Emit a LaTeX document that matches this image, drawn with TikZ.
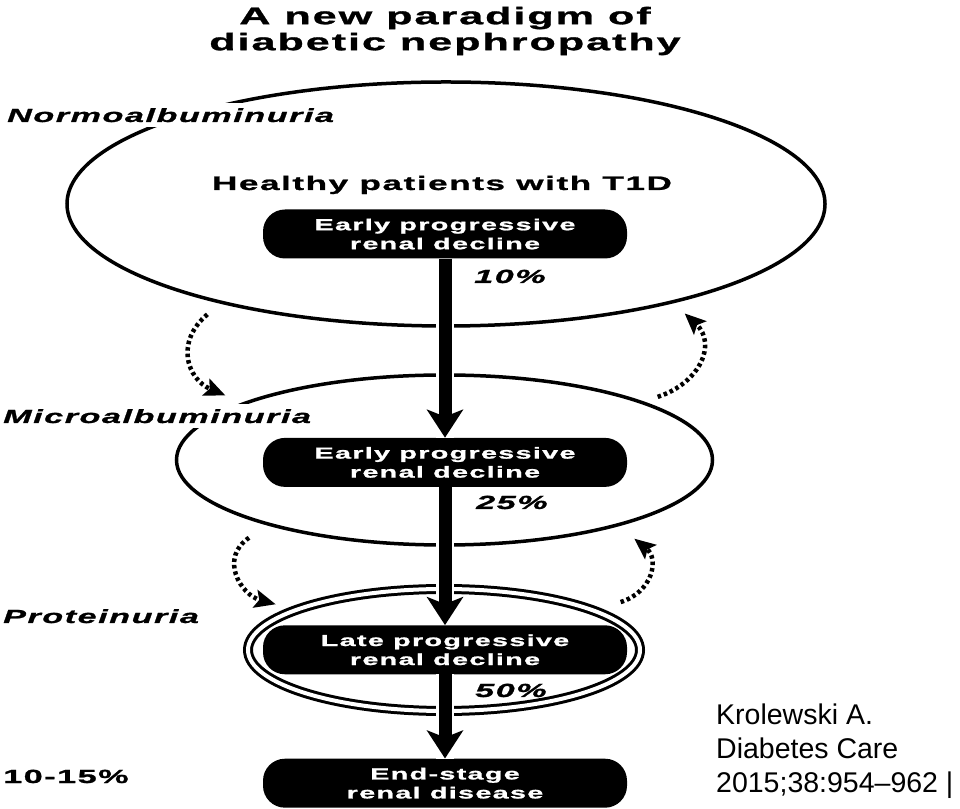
\documentclass[tikz,border=0pt]{standalone}
\usepackage{fontspec}
\setmainfont{Liberation Sans}
\newfontfamily\widefont[FakeStretch=1.8,LetterSpace=8,FakeBold=1.2]{Liberation Sans}
\usetikzlibrary{arrows.meta,positioning,shapes.geometric}

\begin{document}
\begin{tikzpicture}[x=1pt, y=1pt,
  stage/.style={draw, ellipse, line width=3.5pt, inner sep=0pt},
  box/.style={fill=black, text=white, rounded corners=22pt,
              minimum width=364pt, minimum height=49pt, align=center,
              font=\widefont\bfseries\fontsize{16}{19}\selectfont},
  lbl/.style={fill=white, inner sep=5pt, anchor=base west,
              font=\widefont\bfseries\itshape\fontsize{19}{22}\selectfont},
  pct/.style={inner sep=0pt, anchor=base west,
              font=\widefont\bfseries\itshape\fontsize{19}{22}\selectfont},
  ar/.style={-{Stealth[length=28pt, width=36pt, inset=7pt]}, line width=13pt,
             preaction={draw=white, line width=18pt, -}},
  dots/.style={-{Stealth[length=21pt, width=18pt, inset=4pt]}, line width=4.5pt,
               dash pattern=on 3.5pt off 3pt},
  node distance=179pt
]
  \useasboundingbox (0,0) rectangle (960,808);

  \node[font=\widefont\bfseries\fontsize{24}{26}\selectfont, align=center]
    (title) at (445,777) {A new paradigm of\\diabetic nephropathy};

  \node[stage, minimum width=758pt, minimum height=244pt] (normo) at (446,604) {};
  \node[stage, minimum width=536pt, minimum height=170pt] (micro) at (444.5,348) {};
  \node[stage, double, double distance=4pt, line width=3pt,
        minimum width=392pt, minimum height=122pt] (protein) at (444,158) {};

  \node[font=\widefont\bfseries\fontsize{19.5}{22}\selectfont, anchor=base]
    (healthy) at (442,618) {Healthy patients with T1D};

  \node[box] (early1) at (445,574) {Early progressive\\renal decline};
  \node[box, below=of early1] (early2) {Early progressive\\renal decline};
  \node[box, below=138pt of early2] (late) {Late progressive\\renal decline};
  \node[box, below=84pt of late] (esrd) {End-stage\\renal disease};

  \draw[ar] (early1) -- (early2);
  \draw[ar] (early2) -- (late);
  \draw[ar] (late) -- (esrd);

  \node[pct] (p10) at (474,525) {10\%};
  \node[pct] (p25) at (476,299) {25\%};
  \node[pct] (p50) at (475,111) {50\%};

  \node[lbl] (normolbl) at (2,686) {Normoalbuminuria};
  \node[lbl] (microlbl) at (-2,385) {Microalbuminuria};
  \node[lbl] (protlbl) at (-2,185) {Proteinuria};
  \node[pct, font=\widefont\bfseries\fontsize{19}{22}\selectfont]
    (p1015) at (3,25) {10-15\%};

  \draw[dots] ([yshift=-14pt]normo.202) to[out=220, in=157, looseness=1.3]
    ([yshift=14pt]micro.167);
  \draw[dots] ([yshift=10pt]micro.14) to[out=18, in=-43, looseness=1.3]
    ([yshift=-13pt]normo.-22.7);
  \draw[dots] ([yshift=-18pt]micro.197) to[out=214, in=165, looseness=1.3]
    ([yshift=13pt]protein.169);
  \draw[dots] ([yshift=20pt]protein.9.2) to[out=17, in=-39, looseness=1.3]
    ([yshift=-17pt]micro.-18.8);

  \node[anchor=north west, align=left, inner sep=0pt,
        font=\fontsize{28.5}{34}\selectfont] (cite) at (716,104)
    {Krolewski A.\\Diabetes Care\\2015;38:954–962 |};
\end{tikzpicture}
\end{document}
